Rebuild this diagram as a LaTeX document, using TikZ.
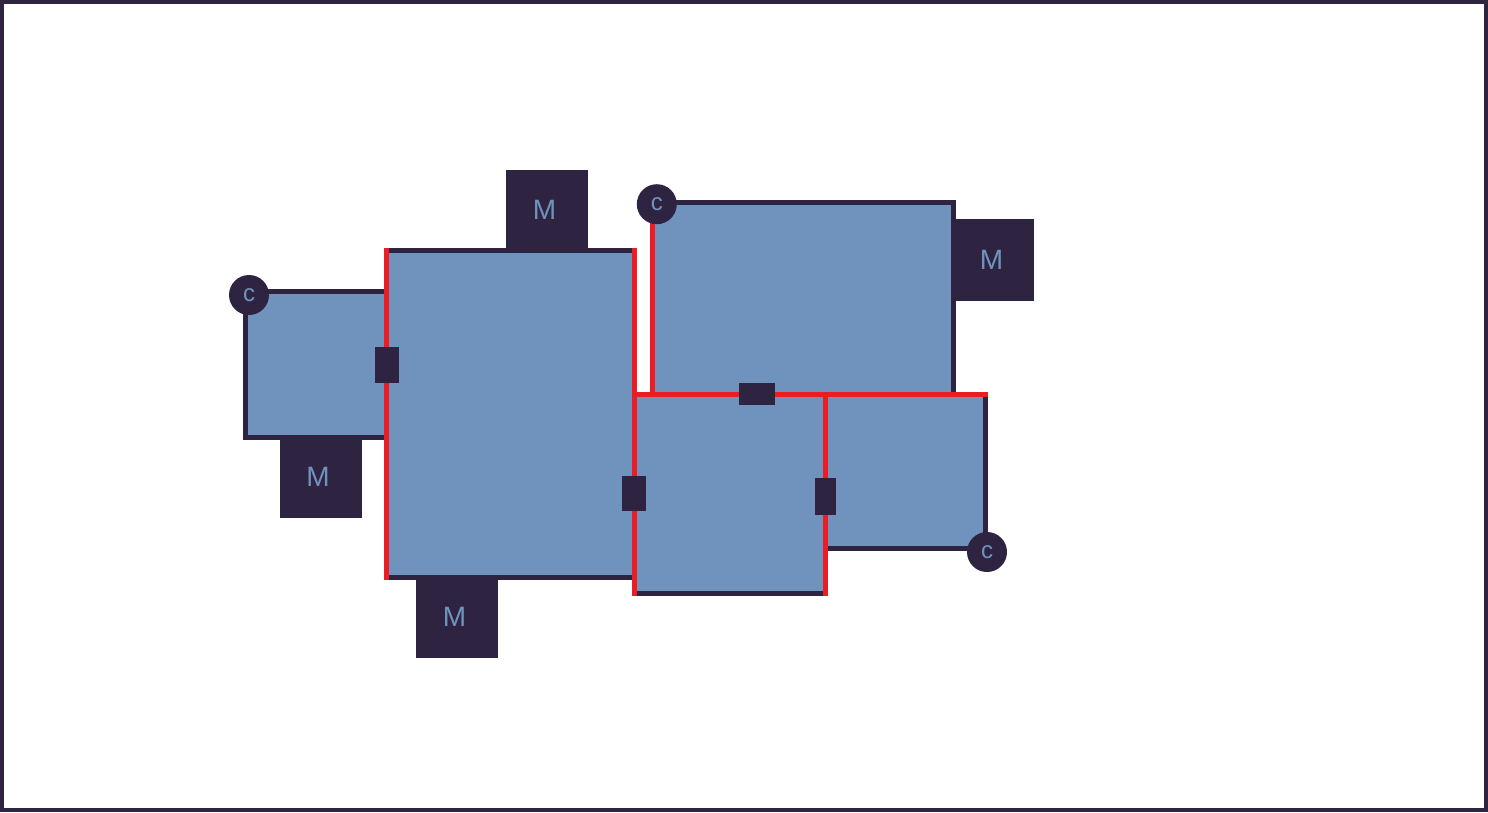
\documentclass[tikz,border=0pt]{standalone}
\usepackage{fontspec}
\setmainfont{Liberation Sans}
\definecolor{roomfill}{RGB}{112,147,190}
\definecolor{darkw}{RGB}{46,36,66}
\definecolor{redw}{RGB}{237,28,36}
\tikzset{
  wall/.style={draw=darkw, line width=4.7pt, line cap=rect, line join=miter},
  sharedwall/.style={draw=redw, line width=4.7pt, line cap=rect},
  room/.style={fill=roomfill},
  mbox/.style={rectangle, fill=darkw, text=roomfill, minimum width=82pt, minimum height=82pt, inner sep=0pt, font=\fontsize{28}{30}\selectfont},
  doorbox/.style={rectangle, fill=darkw, inner sep=0pt},
  cnode/.style={circle, fill=darkw, text=roomfill, minimum size=40pt, inner sep=0pt, font=\fontsize{24}{26}\selectfont}
}
\begin{document}
\begin{tikzpicture}[x=1pt,y=-1pt]
\useasboundingbox (0,0) rectangle (1488,812);
\draw[draw=darkw, line width=4pt] (2,2) rectangle (1486,810);
% room corners
\coordinate (A1) at (245.5,291.7); \coordinate (A2) at (386.5,437.5);
\coordinate (B1) at (386.5,250.7); \coordinate (B2) at (634.5,577.5);
\coordinate (C1) at (652.5,202.5); \coordinate (C2) at (953.5,394.2);
\coordinate (D1) at (634.5,394.2); \coordinate (D2) at (825.2,593.2);
\coordinate (E1) at (825.2,394.2); \coordinate (E2) at (985.2,548.5);
% M boxes (behind walls)
\node[mbox, minimum height=80pt] (m1) at (547,210) {\kern-5pt M};
\node[mbox] (m2) at (993,260) {\kern-3pt M};
\node[mbox] (m3) at (321,477) {\kern-6pt M};
\node[mbox] (m4) at (457,617) {\kern-5pt M};
% fills
\foreach \p/\q in {A1/A2,B1/B2,C1/C2,D1/D2,E1/E2} \fill[room] (\p) rectangle (\q);
% dark walls
\foreach \p/\q in {A1/A2,B1/B2,C1/C2,D1/D2,E1/E2} \draw[wall] (\p) rectangle (\q);
% shared (red) walls
\draw[sharedwall] (B1) -- (B1 |- B2);
\draw[sharedwall] (B1 -| B2) -- (D2 -| D1);
\draw[sharedwall] (C1) -- (C1 |- C2);
\draw[sharedwall] (D1) -- (E2 |- E1);
\draw[sharedwall] (E1) -- (E1 |- D2);
% doors
\node[doorbox, minimum width=24pt, minimum height=36pt] (d1) at (387,365) {};
\node[doorbox, minimum width=36pt, minimum height=22pt] (d2) at (757,394) {};
\node[doorbox, minimum width=24pt, minimum height=35pt] (d3) at (634,493.5) {};
\node[doorbox, minimum width=21pt, minimum height=37pt] (d4) at (825.5,496.5) {};
% corner markers
\node[cnode] (c1) at (249,295) {c};
\node[cnode] (c2) at (656.8,204.2) {c};
\node[cnode] (c3) at (987,552) {c};
\end{tikzpicture}
\end{document}
